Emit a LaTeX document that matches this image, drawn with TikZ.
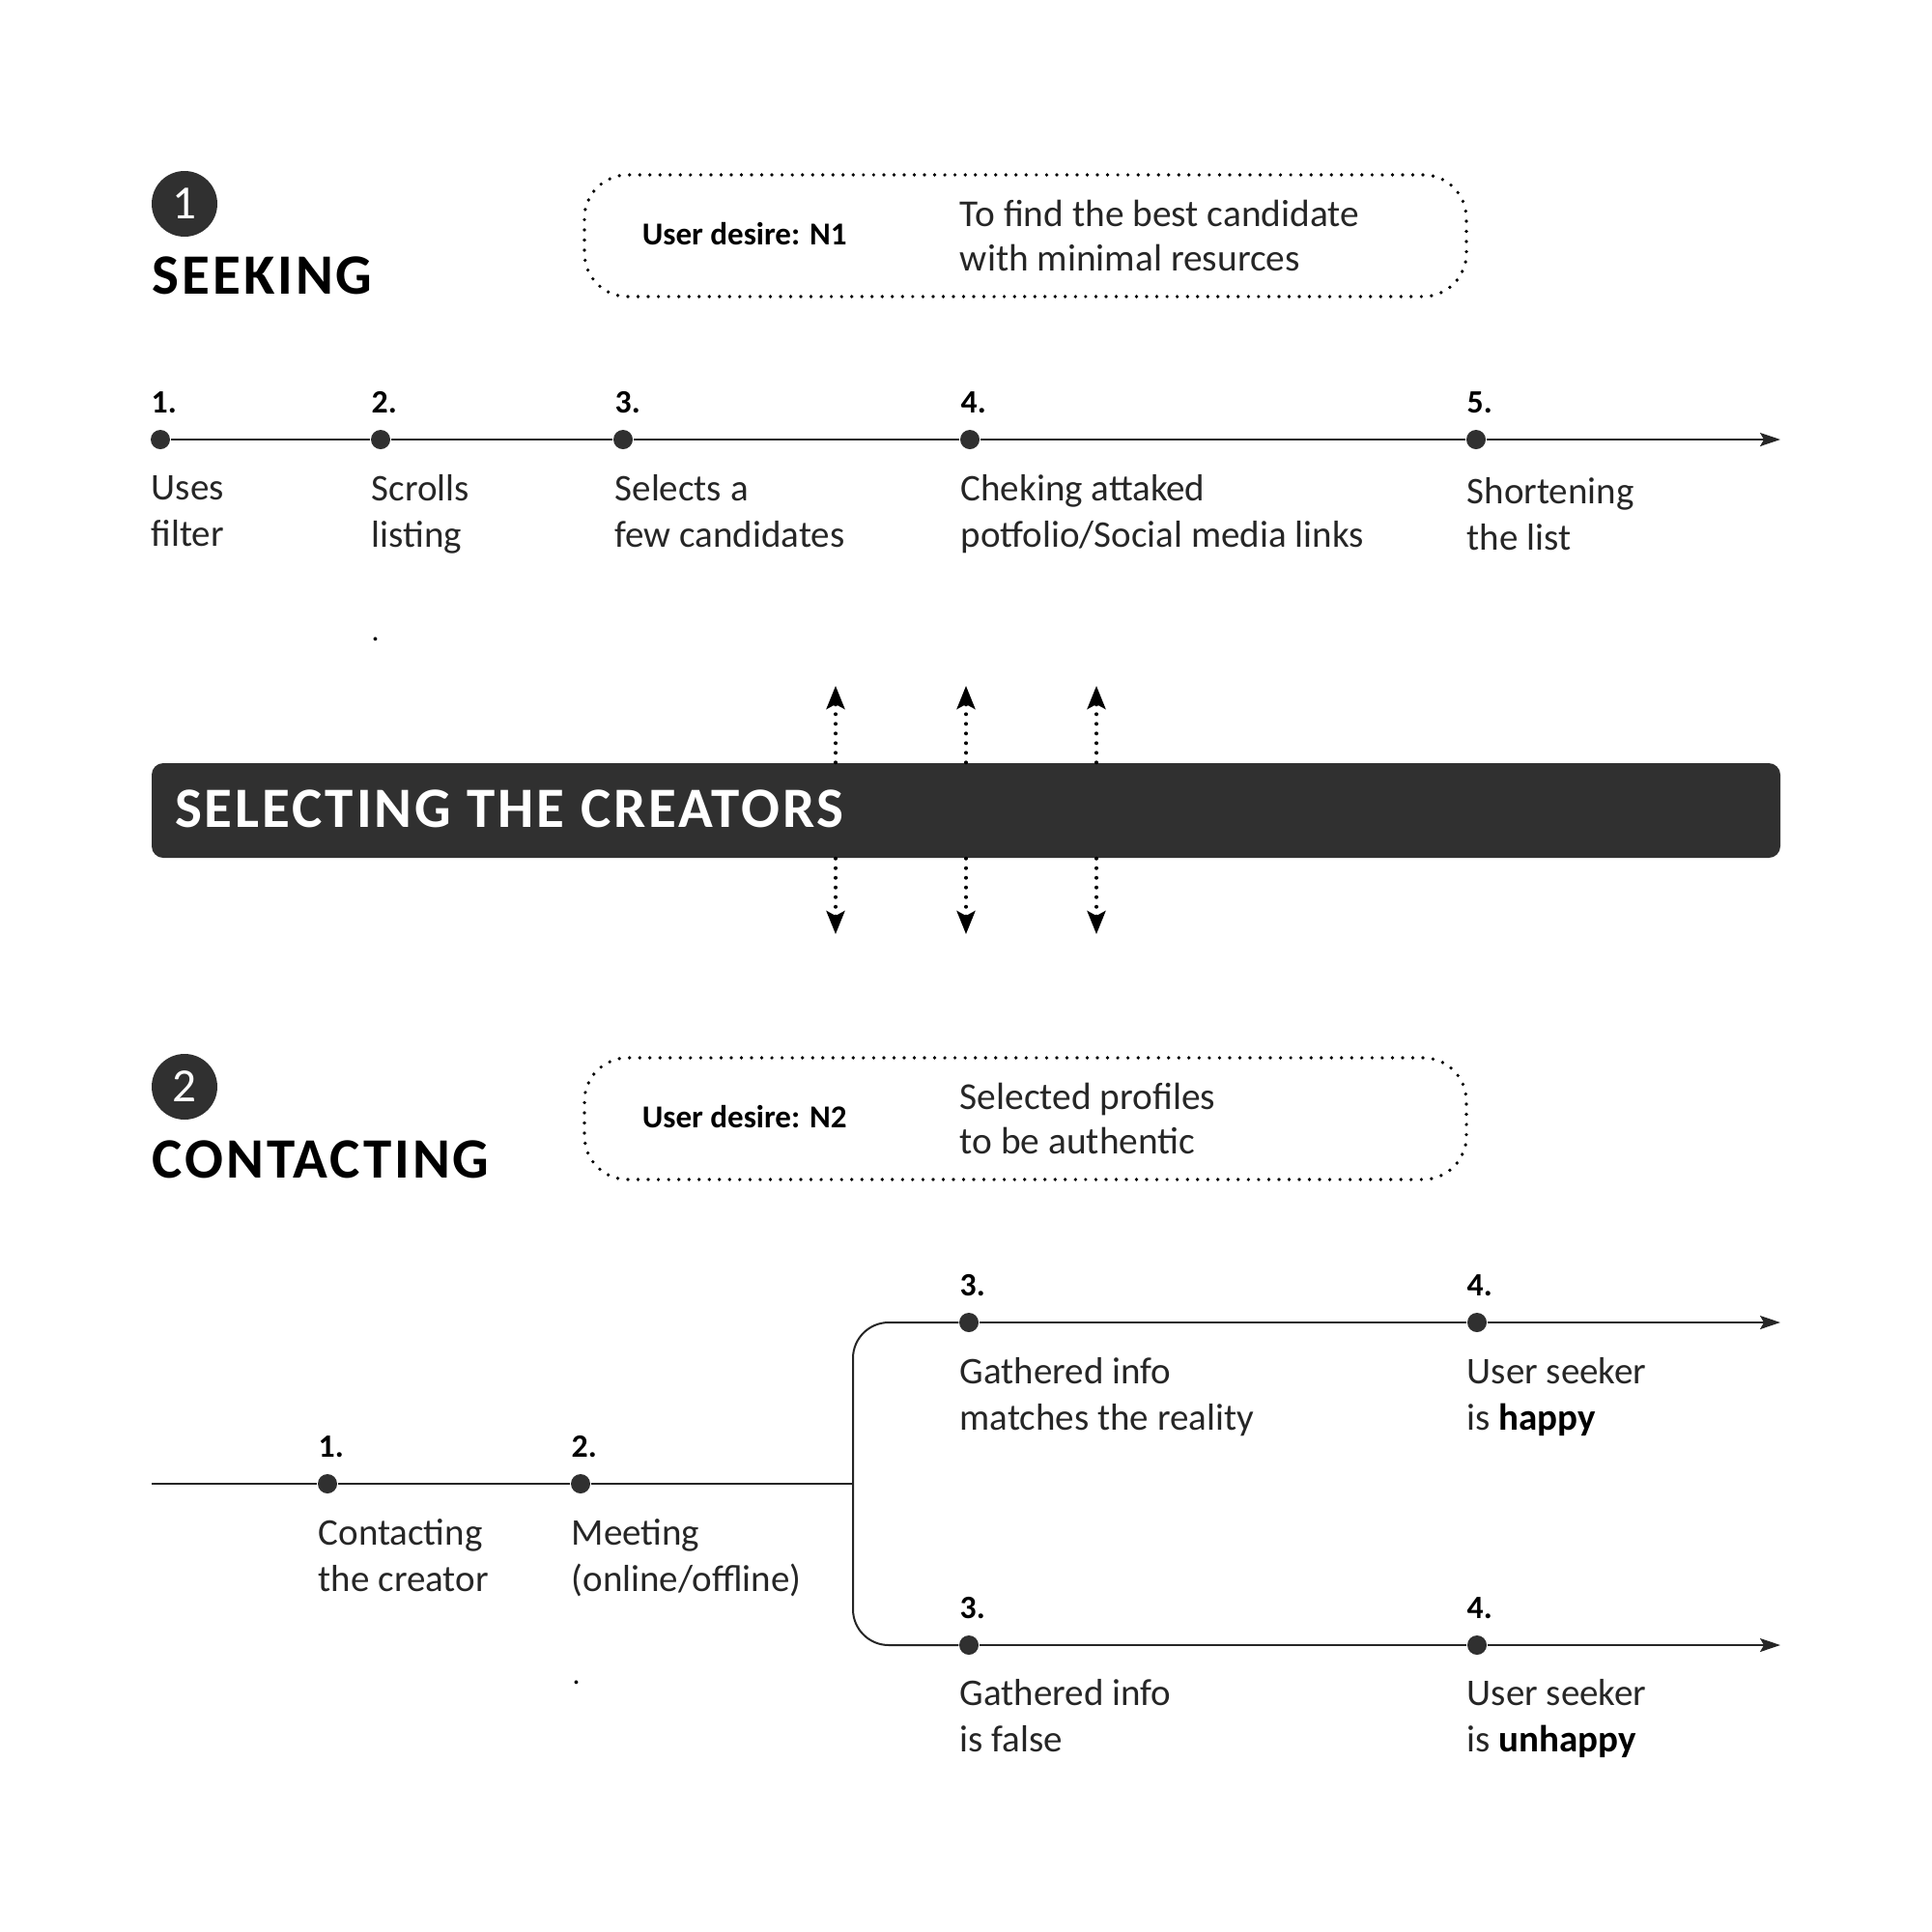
\documentclass[tikz,border=0pt]{standalone}
\usepackage{fontspec}
\setmainfont{Carlito}
\usetikzlibrary{arrows.meta,positioning}
\definecolor{ink}{HTML}{303030}
\tikzset{
    %Define standard arrow tip
    >={Stealth[length=0.21cm,width=0.14cm,inset=0.04cm]},
    %Define style for step dots
    stepdot/.style={
           circle,
           fill=ink,
           inner sep=0pt,
           minimum size=0.2cm},
    %Define styles for texts
    stepnum/.style={
           inner sep=0pt,
           anchor=west,
           font=\fontsize{9.6}{11}\selectfont\bfseries},
    steptext/.style={
           inner sep=0pt,
           align=left,
           text=black!85,
           anchor=north west,
           font=\fontsize{11.1}{13.55}\selectfont},
    wishtext/.style={
           steptext,
           anchor=west,
           font=\fontsize{11.2}{13.05}\selectfont},
    desiretext/.style={
           stepnum,
           yshift=0.015cm,
           font=\fontsize{9.4}{11}\selectfont\bfseries},
    heading/.style={
           inner sep=0pt,
           anchor=west,
           font=\fontsize{16.8}{20}\selectfont\bfseries\addfontfeature{LetterSpace=5}},
    %Define style for desire boxes
    desirebox/.style={
           rectangle,
           rounded corners=0.45cm,
           draw=black,
           line width=0.037cm,
           line cap=round,
           dash pattern=on 0pt off 0.1053cm,
           minimum width=9.13cm,
           minimum height=1.26cm},
    numcircle/.style={
           circle,
           fill=ink,
           text=white,
           inner sep=0pt,
           minimum size=0.68cm,
           font=\fontsize{14}{16}\selectfont},
    % Define arrow styles
    flow/.style={
           draw=black!85,
           line width=0.02cm},
    updown/.style={
           ->,
           >={Stealth[length=0.24cm,width=0.19cm,inset=0.05cm]},
           line width=0.04cm,
           line cap=round,
           dash pattern=on 0pt off 0.1cm}
}
\begin{document}
\begin{tikzpicture}
  \useasboundingbox (0,0) rectangle (20,-20);
  % first part
  \node[numcircle] (circle1) at (1.91,-2.11) {1};
  \node[heading] (seeking) at (1.57,-2.85) {SEEKING};
  \node[desirebox] (box1) at (10.615,-2.44) {};
  \node[desiretext,right=0.61cm of box1.west] (want1) {User desire: N1};
  \node[wishtext,right=3.90cm of box1.west] (wish1) {To find the best candidate\\with minimal resurces};

  \node[stepdot] (a1) at (1.66,-4.55) {};
  \node[stepdot] (a2) at (3.94,-4.55) {}
    edge[flow] (a1);
  \node[stepdot] (a3) at (6.45,-4.55) {}
    edge[flow] (a2);
  \node[stepdot] (a4) at (10.04,-4.55) {}
    edge[flow] (a3);
  \node[stepdot] (a5) at (15.28,-4.55) {}
    edge[flow] (a4);
  \coordinate (aend) at (18.43,-4.55);
  \draw[flow,->] (a5) -- (aend);

  \node[stepnum,above right=0.38cm and -0.10cm of a1.center,anchor=west] (an1) {1.};
  \node[stepnum,above right=0.38cm and -0.10cm of a2.center,anchor=west] (an2) {2.};
  \node[stepnum,above right=0.38cm and -0.09cm of a3.center,anchor=west] (an3) {3.};
  \node[stepnum,above right=0.38cm and -0.10cm of a4.center,anchor=west] (an4) {4.};
  \node[stepnum,above right=0.38cm and -0.10cm of a5.center,anchor=west] (an5) {5.};
  \node[steptext,below right=0.37cm and -0.10cm of a1.center] (at1) {Uses\\filter};
  \node[steptext,below right=0.36cm and -0.10cm of a2.center] (at2) {Scrolls\\listing};
  \node[steptext,below right=0.36cm and -0.09cm of a3.center] (at3) {Selects a\\few candidates};
  \node[steptext,below right=0.36cm and -0.10cm of a4.center] (at4) {Cheking attaked\\potfolio/Social media links};
  \node[steptext,below right=0.39cm and -0.10cm of a5.center] (at5) {Shortening\\the list};
  \node[stepnum,font=\fontsize{9}{11}\selectfont] (stray1) at (3.84,-6.62) {.};

  % middle bar
  \node[rectangle,rounded corners=0.12cm,fill=ink,minimum width=16.86cm,minimum height=0.98cm] (bar) at (10,-8.39) {};
  \node[heading,text=white,right=0.24cm of bar.west,yshift=0.012cm] (bartext) {SELECTING THE CREATORS};
  \coordinate (up1) at (8.65,-7.10);
  \coordinate (up2) at (10,-7.10);
  \coordinate (up3) at (11.35,-7.10);
  \coordinate (down1) at (8.65,-9.67);
  \coordinate (down2) at (10,-9.67);
  \coordinate (down3) at (11.35,-9.67);
  \draw[updown] (bar.north -| up1) -- (up1);
  \draw[updown] (bar.north -| up2) -- (up2);
  \draw[updown] (bar.north -| up3) -- (up3);
  \draw[updown] (bar.south -| down1) -- (down1);
  \draw[updown] (bar.south -| down2) -- (down2);
  \draw[updown] (bar.south -| down3) -- (down3);

  % second part
  \node[numcircle] (circle2) at (1.91,-11.25) {2};
  \node[heading] (contacting) at (1.57,-12.00) {CONTACTING};
  \node[desirebox] (box2) at (10.615,-11.58) {};
  \node[desiretext,right=0.61cm of box2.west] (want2) {User desire: N2};
  \node[wishtext,right=3.90cm of box2.west] (wish2) {Selected profiles\\to be authentic};

  \coordinate (bstart) at (1.57,-15.36);
  \coordinate (fork) at (8.83,-15.36);
  \node[stepdot] (b1) at (3.39,-15.36) {};
  \node[stepdot] (b2) at (6.01,-15.36) {}
    edge[flow] (b1);
  \draw[flow] (bstart) -- (b1);
  \draw[flow] (b2) -- (fork);

  \node[stepdot] (c3) at (10.03,-13.69) {};
  \node[stepdot] (c4) at (15.29,-13.69) {}
    edge[flow] (c3);
  \coordinate (cend) at (18.43,-13.69);
  \draw[flow,->] (c4) -- (cend);
  \node[stepdot] (d3) at (10.03,-17.03) {};
  \node[stepdot] (d4) at (15.29,-17.03) {}
    edge[flow] (d3);
  \coordinate (dend) at (18.43,-17.03);
  \draw[flow,->] (d4) -- (dend);
  \draw[flow,rounded corners=0.37cm] (c3) -- (fork |- c3) -- (fork |- d3) -- (d3);

  \node[stepnum,above right=0.38cm and -0.10cm of b1.center,anchor=west] (bn1) {1.};
  \node[stepnum,above right=0.38cm and -0.10cm of b2.center,anchor=west] (bn2) {2.};
  \node[stepnum,above right=0.38cm and -0.10cm of c3.center,anchor=west] (cn3) {3.};
  \node[stepnum,above right=0.38cm and -0.11cm of c4.center,anchor=west] (cn4) {4.};
  \node[stepnum,above right=0.38cm and -0.10cm of d3.center,anchor=west] (dn3) {3.};
  \node[stepnum,above right=0.38cm and -0.11cm of d4.center,anchor=west] (dn4) {4.};
  \node[steptext,below right=0.36cm and -0.10cm of b1.center] (bt1) {Contacting\\the creator};
  \node[steptext,below right=0.36cm and -0.10cm of b2.center] (bt2) {Meeting\\(online/offline)};
  \node[steptext,below right=0.36cm and -0.10cm of c3.center] (ct3) {Gathered info\\matches the reality};
  \node[steptext,below right=0.36cm and -0.11cm of c4.center] (ct4) {User seeker\\is \textbf{\textcolor{black}{happy}}};
  \node[steptext,below right=0.35cm and -0.10cm of d3.center] (dt3) {Gathered info\\is false};
  \node[steptext,below right=0.35cm and -0.11cm of d4.center] (dt4) {User seeker\\is \textbf{\textcolor{black}{unhappy}}};
  \node[stepnum,font=\fontsize{9}{11}\selectfont] (stray2) at (5.92,-17.42) {.};
\end{tikzpicture}
\end{document}
